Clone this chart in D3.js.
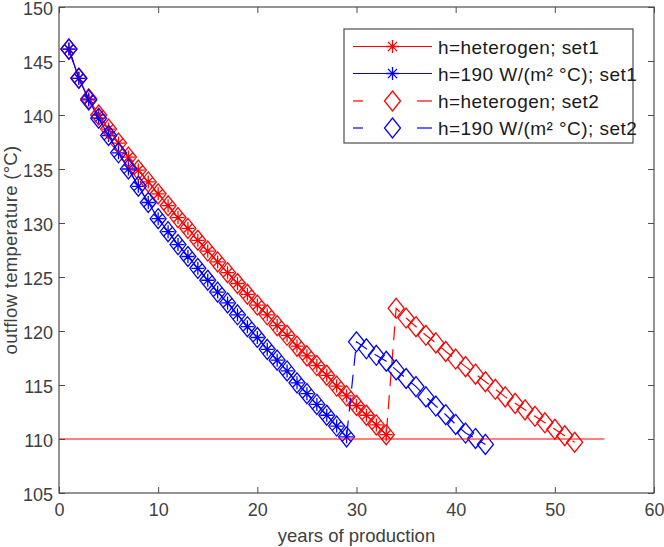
<!DOCTYPE html>
<html>
<head>
<meta charset="utf-8">
<script src="https://cdn.jsdelivr.net/npm/d3@7"></script>
<style>
  html, body { margin: 0; padding: 0; background: #fff; }
  svg { display: block; }
  text { font-family: "Liberation Sans", Arial, Helvetica, sans-serif; }
</style>
</head>
<body>
<svg id="chart" width="664" height="547"></svg>
<script>
// ---------- data ----------
const xTicks = [0, 10, 20, 30, 40, 50, 60];
const yTicks = [105, 110, 115, 120, 125, 130, 135, 140, 145, 150];

const redSet1Years = [1,2,3,4,5,6,7,8,9,10,11,12,13,14,15,16,17,18,19,20,21,22,23,24,25,26,27,28,29,30,31,32,33];
const redSet1Temp  = [146.1,143.4,141.5,140.0,138.7,137.4,136.1,134.9,133.8,132.7,131.6,130.5,129.5,128.4,127.4,126.4,125.4,124.4,123.4,122.4,121.5,120.5,119.6,118.6,117.7,116.8,115.9,114.9,114.0,113.1,112.2,111.3,110.4];

const blueSet1Years = [1,2,3,4,5,6,7,8,9,10,11,12,13,14,15,16,17,18,19,20,21,22,23,24,25,26,27,28,29];
const blueSet1Temp  = [146.1,143.4,141.4,139.7,138.1,136.5,135.0,133.4,131.9,130.4,129.2,128.0,126.9,125.8,124.7,123.6,122.6,121.5,120.4,119.4,118.3,117.3,116.3,115.2,114.2,113.2,112.2,111.2,110.2];

const redSet2TailYears = [34,35,36,37,38,39,40,41,42,43,44,45,46,47,48,49,50,51,52];
const redSet2TailTemp  = [122.1,121.2,120.4,119.6,118.9,118.1,117.4,116.7,116.0,115.3,114.6,113.9,113.3,112.7,112.1,111.5,110.9,110.3,109.7];

const blueSet2TailYears = [30,31,32,33,34,35,36,37,38,39,40,41,42,43];
const blueSet2TailTemp  = [119.0,118.35,117.75,117.2,116.4,115.6,114.85,113.9,113.05,112.25,111.35,110.55,110.05,109.5];

const limitLineX = [0, 55];
const limitLineY = [110, 110];

const seriesNames = ["h=heterogen; set1", "h=190 W/(m\u00B2 \u00B0C); set1", "h=heterogen; set2", "h=190 W/(m\u00B2 \u00B0C); set2"];

// ---------- build series ----------
const zip = (xs, ys) => xs.map((x, i) => ({x, y: ys[i]}));
const series = [
  {name: seriesNames[0], color: "#ff0000", dashed: false, marker: "star",    pts: zip(redSet1Years, redSet1Temp)},
  {name: seriesNames[1], color: "#0000ff", dashed: false, marker: "star",    pts: zip(blueSet1Years, blueSet1Temp)},
  {name: seriesNames[2], color: "#ff0000", dashed: true,  marker: "diamond", pts: zip(redSet1Years.concat(redSet2TailYears), redSet1Temp.concat(redSet2TailTemp))},
  {name: seriesNames[3], color: "#0000ff", dashed: true,  marker: "diamond", pts: zip(blueSet1Years.concat(blueSet2TailYears), blueSet1Temp.concat(blueSet2TailTemp))}
];

// ---------- layout ----------
const L = 59, R = 654, T = 7, B = 493;
const svg = d3.select("#chart");
const x = d3.scaleLinear().domain([0, 60]).range([L, R]);
const y = d3.scaleLinear().domain([105, 150]).range([B, T]);

const axisColor = "#4d4d4d";
const textColor = "#404040";
const fontSize = 18;

// ticks
const gB = svg.append("g").attr("transform", `translate(0,${B})`)
  .call(d3.axisBottom(x).tickValues(xTicks).tickSizeInner(-6).tickSizeOuter(0).tickPadding(10).tickFormat(d3.format("d")));
const gT = svg.append("g").attr("transform", `translate(0,${T})`)
  .call(d3.axisTop(x).tickValues(xTicks).tickSizeInner(-6).tickSizeOuter(0).tickFormat(""));
const gL = svg.append("g").attr("transform", `translate(${L},0)`)
  .call(d3.axisLeft(y).tickValues(yTicks).tickSizeInner(-6).tickSizeOuter(0).tickPadding(6).tickFormat(d3.format("d")));
const gR = svg.append("g").attr("transform", `translate(${R},0)`)
  .call(d3.axisRight(y).tickValues(yTicks).tickSizeInner(-6).tickSizeOuter(0).tickFormat(""));

[gB, gT, gL, gR].forEach(g => {
  g.select(".domain").remove();
  g.selectAll(".tick line").attr("stroke", axisColor).attr("stroke-width", 1);
  g.selectAll(".tick text").attr("fill", textColor).style("font-size", fontSize + "px")
    .style("font-family", "'Liberation Sans', Arial, sans-serif");
});
gL.selectAll(".tick text").attr("dy", "0.44em");

svg.append("rect").attr("x", L).attr("y", T).attr("width", R - L).attr("height", B - T)
  .attr("fill", "none").attr("stroke", axisColor).attr("stroke-width", 1.2);

// axis titles
svg.append("text").attr("x", (L + R) / 2).attr("y", 542).attr("text-anchor", "middle")
  .attr("fill", textColor).style("font-size", "18.5px").text("years of production");
svg.append("text").attr("transform", `translate(16.5,${(T + B) / 2}) rotate(-90)`).attr("text-anchor", "middle")
  .attr("fill", textColor).style("font-size", "18.5px").style("letter-spacing", "0.3px").text("outflow temperature (\u00B0C)");

// ---------- marks ----------
const plot = svg.append("g");
const line = d3.line().x(d => x(d.x)).y(d => y(d.y));
const diamondPath = "M0,-10L8,0L0,10L-8,0Z";
const starPath = "M0,-6.5V6.5M-6.5,0H6.5M-4.6,-4.6L4.6,4.6M-4.6,4.6L4.6,-4.6";

function drawMarker(g, type, color) {
  g.append("path").attr("d", type === "diamond" ? diamondPath : starPath)
    .attr("fill", "none").attr("stroke", color).attr("stroke-width", 1.3);
}

series.forEach(s => {
  const g = plot.append("g");
  g.append("path").datum(s.pts).attr("d", line).attr("fill", "none")
    .attr("stroke", s.color).attr("stroke-width", 1.2)
    .attr("stroke-dasharray", s.dashed ? "14,9" : null);
  g.selectAll("g.m").data(s.pts).join("g").attr("class", "m")
    .attr("transform", d => `translate(${x(d.x)},${y(d.y)})`)
    .each(function () { drawMarker(d3.select(this), s.marker, s.color); });
});

// limit line
plot.append("path").datum(zip(limitLineX, limitLineY)).attr("d", line)
  .attr("fill", "none").attr("stroke", "#ff0000").attr("stroke-width", 1.2);

// ---------- legend ----------
const lg = svg.append("g");
lg.append("rect").attr("x", 344).attr("y", 29).attr("width", 289).attr("height", 114)
  .attr("fill", "#fff").attr("stroke", axisColor).attr("stroke-width", 1.2);
const rowY = [46.5, 73.5, 101, 128];
series.forEach((s, i) => {
  const cy = rowY[i];
  if (s.dashed) {
    lg.append("line").attr("x1", 353).attr("x2", 363).attr("y1", cy).attr("y2", cy)
      .attr("stroke", s.color).attr("stroke-width", 1.2);
    lg.append("line").attr("x1", 417).attr("x2", 432).attr("y1", cy).attr("y2", cy)
      .attr("stroke", s.color).attr("stroke-width", 1.2);
  } else {
    lg.append("line").attr("x1", 353).attr("x2", 432).attr("y1", cy).attr("y2", cy)
      .attr("stroke", s.color).attr("stroke-width", 1.2);
  }
  const mg = lg.append("g").attr("transform", `translate(392.5,${cy})`);
  drawMarker(mg, s.marker, s.color);
  lg.append("text").attr("x", 438).attr("y", cy + 7).attr("fill", "#1a1a1a")
    .style("font-size", "19px").style("letter-spacing", "0.45px").text(s.name);
});
</script>
</body>
</html>
